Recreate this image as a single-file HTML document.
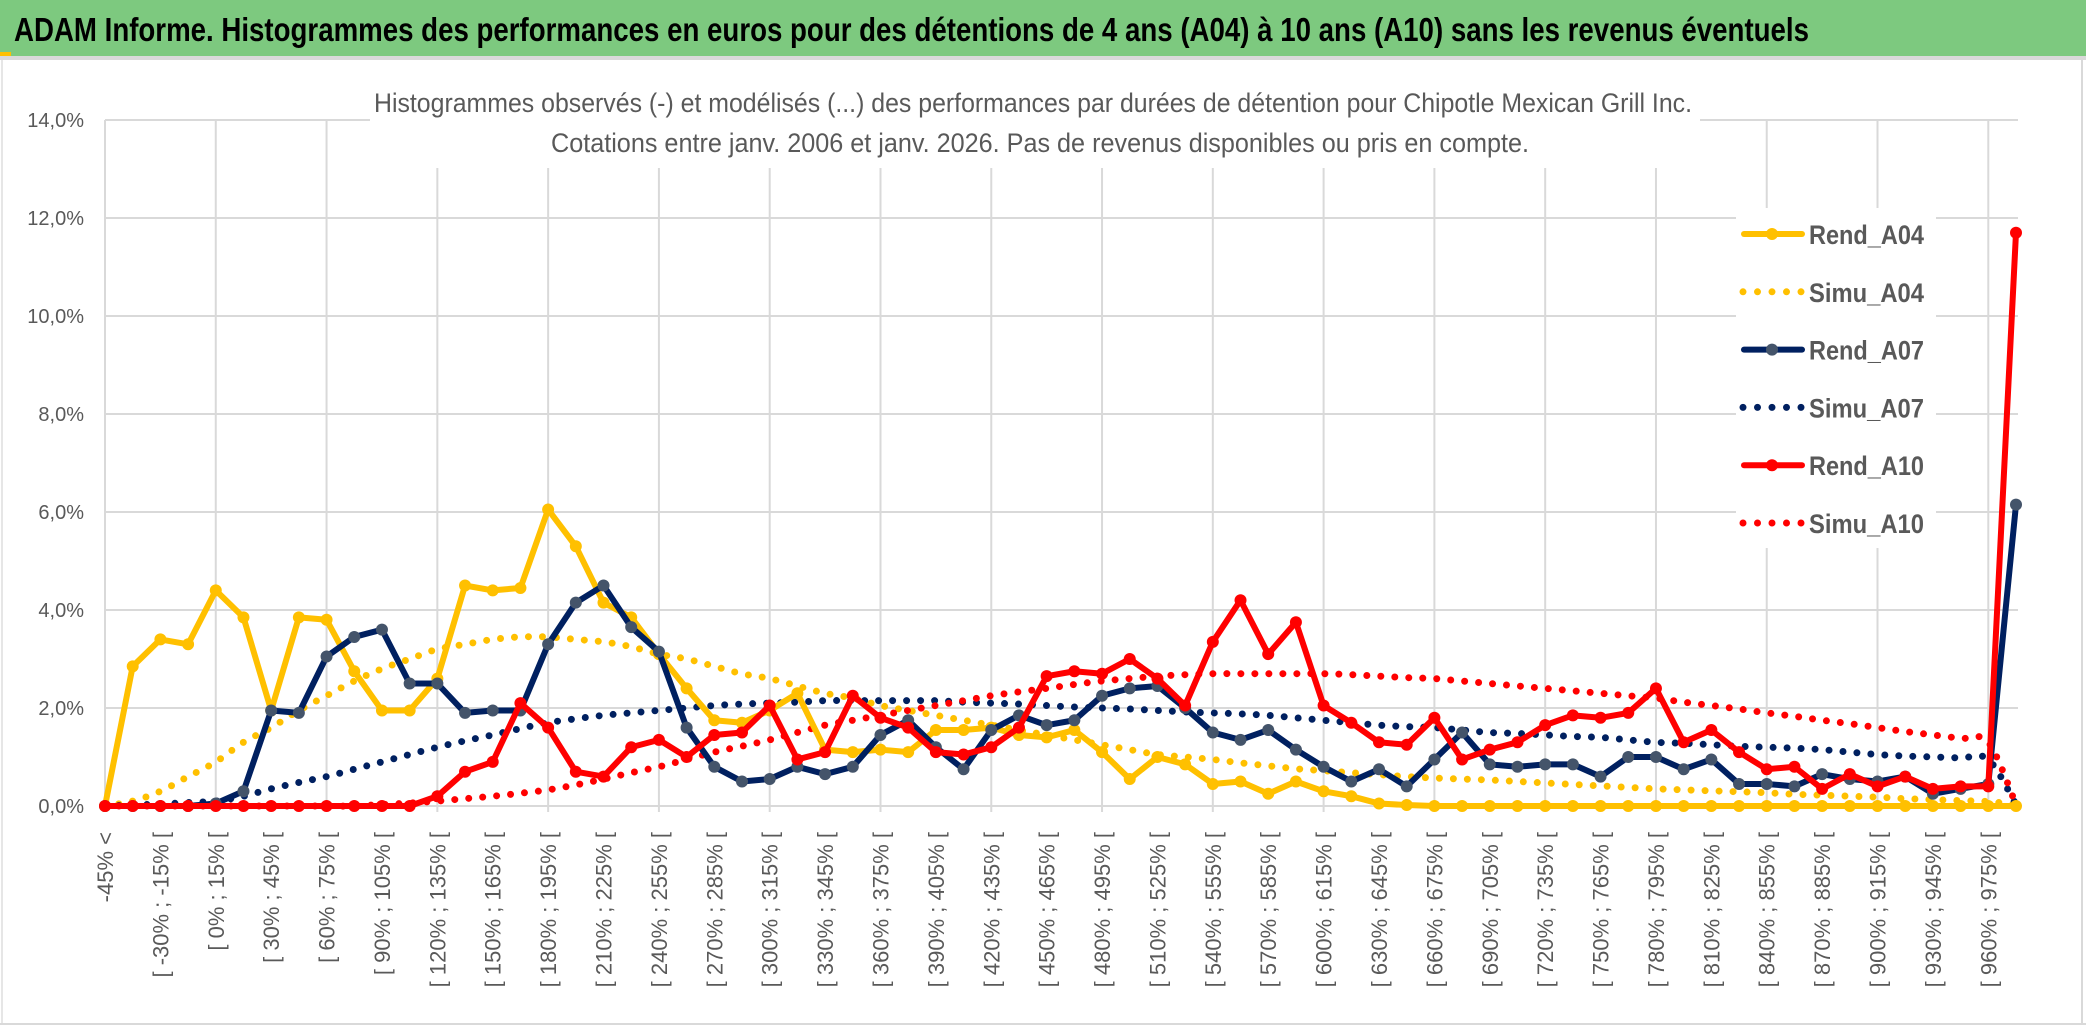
<!DOCTYPE html>
<html><head><meta charset="utf-8">
<style>
html,body{margin:0;padding:0;background:#fff;}
svg{display:block;font-family:"Liberation Sans",sans-serif;}
</style></head>
<body>
<svg id="chart" width="2086" height="1033" viewBox="0 0 2086 1033">
  <rect x="0" y="0" width="2086" height="1033" fill="#fff"/>
  <rect x="0" y="0" width="2086" height="56" fill="#7dc97f"/>
  <rect x="0" y="56" width="2086" height="4" fill="#d9d9d9"/>
  <rect x="0" y="52" width="11" height="4" fill="#ffc000"/>
  <text x="14" y="41" font-size="33" font-weight="bold" fill="#000" textLength="1795" lengthAdjust="spacingAndGlyphs">ADAM Informe. Histogrammes des performances en euros pour des détentions de 4 ans (A04) à 10 ans (A10) sans les revenus éventuels</text>
  <line x1="2082" y1="60" x2="2082" y2="1025" stroke="#d9d9d9" stroke-width="2"/>
  <line x1="2" y1="60" x2="2" y2="1025" stroke="#e6e6e6" stroke-width="2"/>
  <line x1="0" y1="1024" x2="2086" y2="1024" stroke="#d9d9d9" stroke-width="2"/>
  <g id="grid"></g>
  <g id="yaxis"></g>
  <g id="xaxis"></g>
  <rect x="370" y="78" width="1330" height="90" fill="#fff"/>
  <text x="1033" y="112" font-size="27" fill="#595959" text-anchor="middle" textLength="1318" lengthAdjust="spacingAndGlyphs">Histogrammes observés (-) et modélisés (...) des performances par durées de détention pour Chipotle Mexican Grill Inc.</text>
  <text x="1040" y="152" font-size="27" fill="#595959" text-anchor="middle" textLength="978" lengthAdjust="spacingAndGlyphs">Cotations entre janv. 2006 et janv. 2026. Pas de revenus disponibles ou pris en compte.</text>
  <g id="series"></g>
  <g id="legend"></g>
</svg>
<script>
const rendA04 = [0,2.85,3.4,3.3,4.4,3.85,1.95,3.85,3.8,2.75,1.95,1.95,2.6,4.5,4.4,4.45,6.05,5.3,4.15,3.85,3.1,2.4,1.75,1.7,1.95,2.3,1.15,1.1,1.15,1.1,1.55,1.55,1.6,1.45,1.4,1.55,1.1,0.55,1.0,0.85,0.45,0.5,0.25,0.5,0.3,0.2,0.05,0.02,0,0,0,0,0,0,0,0,0,0,0,0,0,0,0,0,0,0,0,0,0,0];
const simuA04 = [0,0.1,0.3,0.6,0.9,1.3,1.6,1.95,2.25,2.55,2.8,3.0,3.2,3.3,3.4,3.45,3.45,3.4,3.35,3.25,3.1,3.0,2.85,2.7,2.6,2.45,2.3,2.2,2.05,1.95,1.85,1.75,1.65,1.55,1.45,1.35,1.25,1.15,1.05,1.0,0.95,0.88,0.82,0.76,0.72,0.68,0.64,0.6,0.57,0.55,0.53,0.5,0.47,0.44,0.41,0.38,0.35,0.33,0.31,0.29,0.27,0.24,0.22,0.2,0.18,0.15,0.13,0.11,0.09,0.03];
const rendA07 = [0,0,0,0,0.05,0.3,1.95,1.9,3.05,3.45,3.6,2.5,2.5,1.9,1.95,1.95,3.3,4.15,4.5,3.65,3.15,1.6,0.8,0.5,0.55,0.8,0.65,0.8,1.45,1.75,1.2,0.75,1.55,1.85,1.65,1.75,2.25,2.4,2.45,2.0,1.5,1.35,1.55,1.15,0.8,0.5,0.75,0.4,0.95,1.5,0.85,0.8,0.85,0.85,0.6,1.0,1.0,0.75,0.95,0.45,0.45,0.4,0.65,0.55,0.5,0.6,0.25,0.35,0.45,6.15];
const simuA07 = [0,0.02,0.04,0.07,0.1,0.2,0.35,0.48,0.6,0.75,0.9,1.05,1.2,1.33,1.45,1.58,1.7,1.78,1.85,1.9,1.95,2.0,2.05,2.08,2.1,2.12,2.15,2.15,2.15,2.15,2.15,2.12,2.1,2.08,2.05,2.02,2.0,1.98,1.95,1.92,1.9,1.88,1.85,1.8,1.75,1.7,1.65,1.62,1.6,1.55,1.5,1.48,1.45,1.42,1.4,1.35,1.3,1.28,1.25,1.22,1.2,1.18,1.15,1.1,1.05,1.02,1.0,0.98,0.95,0.03];
const rendA10 = [0,0,0,0,0,0,0,0,0,0,0,0,0.2,0.7,0.9,2.1,1.6,0.7,0.6,1.2,1.35,1.0,1.45,1.5,2.05,0.95,1.1,2.25,1.8,1.6,1.1,1.05,1.2,1.6,2.65,2.75,2.7,3.0,2.6,2.05,3.35,4.2,3.1,3.75,2.05,1.7,1.3,1.25,1.8,0.95,1.15,1.3,1.65,1.85,1.8,1.9,2.4,1.3,1.55,1.1,0.75,0.8,0.35,0.65,0.4,0.6,0.35,0.4,0.4,11.7];
const simuA10 = [0,0,0,0,0,0,0,0,0,0,0.03,0.06,0.1,0.15,0.2,0.26,0.33,0.43,0.55,0.68,0.8,0.95,1.1,1.22,1.35,1.5,1.65,1.75,1.85,1.95,2.05,2.15,2.25,2.33,2.4,2.48,2.55,2.6,2.65,2.68,2.7,2.7,2.7,2.7,2.7,2.68,2.65,2.62,2.6,2.55,2.5,2.45,2.4,2.35,2.3,2.25,2.2,2.12,2.05,1.98,1.9,1.83,1.75,1.68,1.6,1.52,1.45,1.38,1.3,0.03];
const yTicks = [0,2,4,6,8,10,12,14];
const lowerBounds = [-45,-30,-15,0,15,30,45,60,75,90,105,120,135,150,165,180,195,210,225,240,255,270,285,300,315,330,345,360,375,390,405,420,435,450,465,480,495,510,525,540,555,570,585,600,615,630,645,660,675,690,705,720,735,750,765,780,795,810,825,840,855,870,885,900,915,930,945,960,975];

const NS = "http://www.w3.org/2000/svg";
const X0 = 105, X1 = 2016, Y0 = 806, PXPCT = 49;
const N = rendA04.length;
const xPos = i => X0 + (X1 - X0) * i / (N - 1);
const yPos = v => Y0 - v * PXPCT;
function mk(tag, attrs, parent){ const e=document.createElementNS(NS,tag); for(const k in attrs) e.setAttribute(k,attrs[k]); parent.appendChild(e); return e; }

const grid = document.getElementById('grid');
yTicks.forEach(t=>{
  const l = mk('line',{x1:X0,x2:X1+2,y1:yPos(t),y2:yPos(t),stroke:'#d9d9d9','stroke-width':2},grid);
  
  
});
for(let i=0;i<N;i+=4){
  const l = mk('line',{x1:xPos(i),x2:xPos(i),y1:yPos(14),y2:Y0+6,stroke:'#d9d9d9','stroke-width':2},grid);
  
  
}
const yaxis = document.getElementById('yaxis');
yTicks.forEach(t=>{
  const tx = mk('text',{x:84,y:yPos(t)+7,'font-size':20,fill:'#595959','text-anchor':'end'},yaxis);
  tx.textContent = t.toFixed(1).replace('.',',')+'%';
  
  
});
const xaxis = document.getElementById('xaxis');
for(let i=0;i<N;i+=2){
  let lab;
  if(i===0) lab = lowerBounds[0]+'% <';
  else lab = '[ '+lowerBounds[i-1]+'% ; '+lowerBounds[i]+'% [';
  const x = xPos(i)+8, y = 832;
  const tx = mk('text',{x:x,y:y,'font-size':22,fill:'#595959','text-anchor':'end',transform:'rotate(-90 '+x+' '+y+')'},xaxis);
  tx.textContent = lab;
  
  
}

function smoothPath(vals){
  const p = vals.map((v,i)=>[xPos(i),yPos(v)]);
  let d = 'M'+p[0][0]+','+p[0][1];
  for(let i=0;i<p.length-1;i++){
    const p0=p[Math.max(0,i-1)],p1=p[i],p2=p[i+1],p3=p[Math.min(p.length-1,i+2)];
    const c1=[p1[0]+(p2[0]-p0[0])/6,p1[1]+(p2[1]-p0[1])/6];
    const c2=[p2[0]-(p3[0]-p1[0])/6,p2[1]-(p3[1]-p1[1])/6];
    d+=' C'+c1[0]+','+c1[1]+' '+c2[0]+','+c2[1]+' '+p2[0]+','+p2[1];
  }
  return d;
}
const series = document.getElementById('series');
function dotted(vals,color,name){
  const p = mk('path',{d:smoothPath(vals),fill:'none',stroke:color,'stroke-width':7,'stroke-linecap':'round','stroke-dasharray':'0 14'},series);
  
  
}
function solid(vals,color,mcolor,name){
  const g = mk('g',{},series);
  
  
  const pts = vals.map((v,i)=>xPos(i)+','+yPos(v)).join(' ');
  mk('polyline',{points:pts,fill:'none',stroke:color,'stroke-width':6,'stroke-linejoin':'round'},g);
  vals.forEach((v,i)=>{
    const c = mk('circle',{cx:xPos(i),cy:yPos(v),r:6,fill:mcolor},g);
    
    
  });
}
dotted(simuA04,'#ffc000','simu-a04-line');
dotted(simuA07,'#002060','simu-a07-line');
dotted(simuA10,'#ff0000','simu-a10-line');
solid(rendA04,'#ffc000','#ffc000','rend-a04-line');
solid(rendA07,'#002060','#44546a','rend-a07-line');
solid(rendA10,'#ff0000','#ff0000','rend-a10-line');

const legend = document.getElementById('legend');
mk('rect',{x:1736,y:208,width:200,height:340,fill:'#fff'},legend);
const items = [['Rend_A04','#ffc000','#ffc000',false],['Simu_A04','#ffc000','#ffc000',true],['Rend_A07','#002060','#44546a',false],['Simu_A07','#002060','#002060',true],['Rend_A10','#ff0000','#ff0000',false],['Simu_A10','#ff0000','#ff0000',true]];
items.forEach((it,k)=>{
  const y = 234 + k*57.8;
  const g = mk('g',{},legend);
  
  
  if(it[3]){
    mk('line',{x1:1743,x2:1802,y1:y,y2:y,stroke:it[1],'stroke-width':7,'stroke-linecap':'round','stroke-dasharray':'0 14.5'},g);
  } else {
    mk('line',{x1:1744,x2:1802,y1:y,y2:y,stroke:it[1],'stroke-width':6,'stroke-linecap':'round'},g);
    mk('circle',{cx:1772,cy:y,r:6,fill:it[2]},g);
  }
  const t = mk('text',{x:1809,y:y+10,'font-size':27,'font-weight':'bold',fill:'#595959',textLength:115,lengthAdjust:'spacingAndGlyphs'},g);
  t.textContent = it[0];
});
</script>
</body></html>
